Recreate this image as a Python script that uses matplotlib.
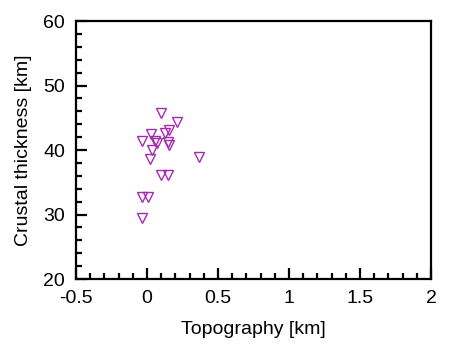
import matplotlib
matplotlib.use("Agg")
import matplotlib.pyplot as plt
from matplotlib.ticker import MultipleLocator

plt.rcParams['font.family'] = ['Liberation Sans', 'DejaVu Sans']

topography = [0.097, 0.208, 0.027, 0.125, 0.156, -0.034, 0.055, 0.069, 0.147, 0.152,
              0.037, 0.018, 0.365, 0.097, 0.149, -0.034, 0.008, -0.034]
thickness = [45.8, 44.4, 42.5, 42.6, 43.1, 41.4, 41.4, 41.1, 41.2, 40.8,
             40.0, 38.6, 39.0, 36.1, 36.1, 32.8, 32.8, 29.4]

fig = plt.figure(figsize=(4.5, 3.56), dpi=100)
ax = fig.add_axes([0.169, 0.216, 0.789, 0.725])
ax.plot(topography, thickness, linestyle='none', marker='v', markersize=6.5,
        markerfacecolor='none', markeredgecolor='#A52AB0', markeredgewidth=1.0)

ax.set_xlim(-0.5, 2)
ax.set_ylim(20, 60)
ax.xaxis.set_major_locator(MultipleLocator(0.5))
ax.xaxis.set_minor_locator(MultipleLocator(0.1))
ax.yaxis.set_major_locator(MultipleLocator(10))
ax.yaxis.set_minor_locator(MultipleLocator(2))
ax.set_xticks([-0.5, 0, 0.5, 1, 1.5, 2])
ax.set_xticklabels(['-0.5', '0', '0.5', '1', '1.5', '2'])
ax.tick_params(which='both', direction='in', width=1.6, labelsize=14, pad=8)
ax.tick_params(which='major', length=8)
ax.tick_params(which='minor', length=4)
for s in ax.spines.values():
    s.set_linewidth(1.6)
ax.set_xlabel('Topography [km]', fontsize=14, labelpad=10)
ax.set_ylabel('Crustal thickness [km]', fontsize=14, labelpad=8)

fig.savefig('out.png', dpi=100)
